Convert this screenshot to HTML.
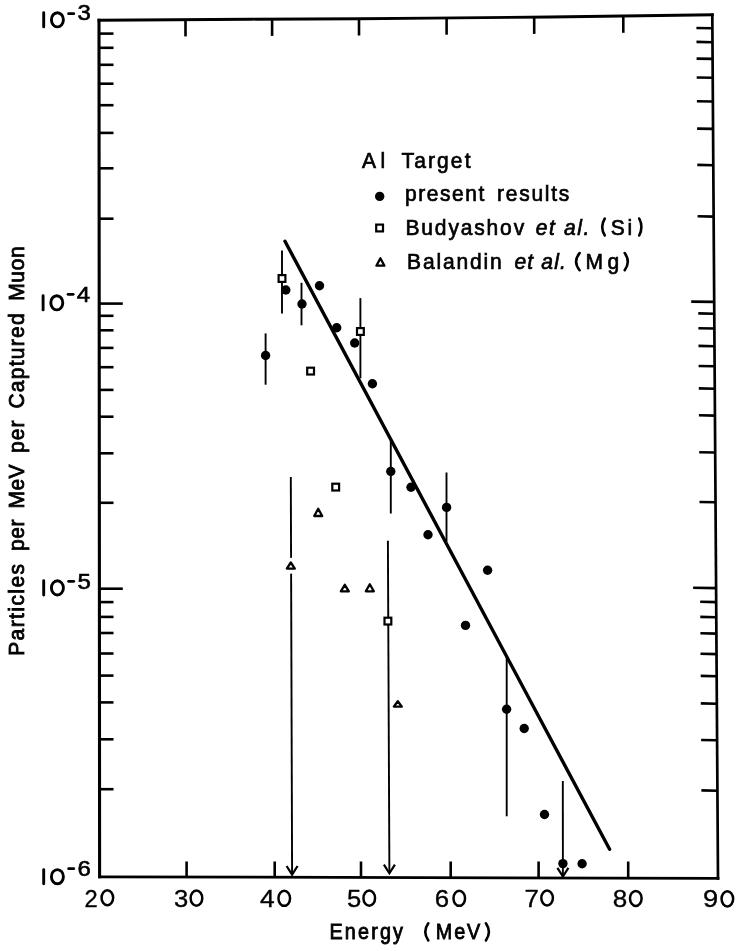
<!DOCTYPE html>
<html><head><meta charset="utf-8"><style>
html,body{margin:0;padding:0;background:#fff;}
svg{display:block;will-change:transform;}
</style></head><body>
<svg width="743" height="951" viewBox="0 0 743 951">
<rect width="743" height="951" fill="#fff"/>
<polyline points="99.0,20.2 250.0,19.2 360.0,18.7 430.0,18.1 550.0,17.0 712.3,14.8" fill="none" stroke="#000" stroke-width="2.9" stroke-linecap="square"/>
<line x1="99.0" y1="20.2" x2="99.6" y2="876.8" stroke="#000" stroke-width="3.1" stroke-linecap="square"/>
<line x1="99.6" y1="876.8" x2="718.0" y2="878.3" stroke="#000" stroke-width="2.8" stroke-linecap="square"/>
<line x1="712.3" y1="14.8" x2="718.0" y2="878.3" stroke="#000" stroke-width="2.7" stroke-linecap="square"/>
<line x1="99.0" y1="33.6" x2="113.5" y2="33.6" stroke="#000" stroke-width="2.6"/>
<line x1="99.0" y1="47.8" x2="113.5" y2="47.8" stroke="#000" stroke-width="2.6"/>
<line x1="99.0" y1="64.8" x2="113.5" y2="64.8" stroke="#000" stroke-width="2.6"/>
<line x1="99.0" y1="83.7" x2="113.5" y2="83.7" stroke="#000" stroke-width="2.6"/>
<line x1="99.1" y1="105.2" x2="113.5" y2="105.2" stroke="#000" stroke-width="2.6"/>
<line x1="99.1" y1="132.9" x2="113.5" y2="132.9" stroke="#000" stroke-width="2.6"/>
<line x1="99.1" y1="168.3" x2="113.5" y2="168.3" stroke="#000" stroke-width="2.6"/>
<line x1="99.1" y1="218.7" x2="113.5" y2="218.7" stroke="#000" stroke-width="2.6"/>
<line x1="99.2" y1="315.8" x2="113.5" y2="315.8" stroke="#000" stroke-width="2.6"/>
<line x1="99.2" y1="330.3" x2="113.5" y2="330.3" stroke="#000" stroke-width="2.6"/>
<line x1="99.2" y1="347.9" x2="113.5" y2="347.9" stroke="#000" stroke-width="2.6"/>
<line x1="99.2" y1="367.2" x2="113.5" y2="367.2" stroke="#000" stroke-width="2.6"/>
<line x1="99.3" y1="389.9" x2="113.5" y2="389.9" stroke="#000" stroke-width="2.6"/>
<line x1="99.3" y1="416.7" x2="113.5" y2="416.7" stroke="#000" stroke-width="2.6"/>
<line x1="99.3" y1="453.3" x2="113.5" y2="453.3" stroke="#000" stroke-width="2.6"/>
<line x1="99.3" y1="502.8" x2="113.5" y2="502.8" stroke="#000" stroke-width="2.6"/>
<line x1="99.4" y1="602.1" x2="113.5" y2="602.1" stroke="#000" stroke-width="2.6"/>
<line x1="99.4" y1="616.9" x2="113.5" y2="616.9" stroke="#000" stroke-width="2.6"/>
<line x1="99.4" y1="633.0" x2="113.5" y2="633.0" stroke="#000" stroke-width="2.6"/>
<line x1="99.4" y1="653.5" x2="113.5" y2="653.5" stroke="#000" stroke-width="2.6"/>
<line x1="99.5" y1="675.6" x2="113.5" y2="675.6" stroke="#000" stroke-width="2.6"/>
<line x1="99.5" y1="702.4" x2="113.5" y2="702.4" stroke="#000" stroke-width="2.6"/>
<line x1="99.5" y1="739.3" x2="113.5" y2="739.3" stroke="#000" stroke-width="2.6"/>
<line x1="99.5" y1="789.2" x2="113.5" y2="789.2" stroke="#000" stroke-width="2.6"/>
<line x1="99.2" y1="303.6" x2="122.8" y2="303.6" stroke="#000" stroke-width="2.6"/>
<line x1="99.4" y1="588.7" x2="122.8" y2="588.7" stroke="#000" stroke-width="2.6"/>
<line x1="712.4" y1="28.3" x2="696.4" y2="28.0" stroke="#000" stroke-width="2.6"/>
<line x1="712.5" y1="42.2" x2="696.5" y2="41.9" stroke="#000" stroke-width="2.6"/>
<line x1="712.6" y1="58.9" x2="696.6" y2="58.6" stroke="#000" stroke-width="2.6"/>
<line x1="712.7" y1="77.8" x2="696.7" y2="77.5" stroke="#000" stroke-width="2.6"/>
<line x1="712.9" y1="101.5" x2="696.9" y2="101.2" stroke="#000" stroke-width="2.6"/>
<line x1="713.1" y1="128.9" x2="697.1" y2="128.6" stroke="#000" stroke-width="2.6"/>
<line x1="713.3" y1="165.2" x2="697.3" y2="164.9" stroke="#000" stroke-width="2.6"/>
<line x1="713.6" y1="216.6" x2="697.6" y2="216.3" stroke="#000" stroke-width="2.6"/>
<line x1="714.3" y1="313.7" x2="698.3" y2="313.4" stroke="#000" stroke-width="2.6"/>
<line x1="714.4" y1="328.5" x2="698.4" y2="328.2" stroke="#000" stroke-width="2.6"/>
<line x1="714.5" y1="346.2" x2="698.5" y2="345.9" stroke="#000" stroke-width="2.6"/>
<line x1="714.6" y1="366.3" x2="698.6" y2="366.0" stroke="#000" stroke-width="2.6"/>
<line x1="714.8" y1="388.7" x2="698.8" y2="388.4" stroke="#000" stroke-width="2.6"/>
<line x1="714.9" y1="415.6" x2="698.9" y2="415.3" stroke="#000" stroke-width="2.6"/>
<line x1="715.2" y1="452.5" x2="699.2" y2="452.2" stroke="#000" stroke-width="2.6"/>
<line x1="715.5" y1="502.3" x2="699.5" y2="502.0" stroke="#000" stroke-width="2.6"/>
<line x1="716.2" y1="602.1" x2="700.2" y2="601.8" stroke="#000" stroke-width="2.6"/>
<line x1="716.3" y1="617.2" x2="700.3" y2="616.9" stroke="#000" stroke-width="2.6"/>
<line x1="716.4" y1="633.6" x2="700.4" y2="633.3" stroke="#000" stroke-width="2.6"/>
<line x1="716.5" y1="654.1" x2="700.5" y2="653.8" stroke="#000" stroke-width="2.6"/>
<line x1="716.7" y1="676.2" x2="700.7" y2="675.9" stroke="#000" stroke-width="2.6"/>
<line x1="716.8" y1="703.7" x2="700.8" y2="703.4" stroke="#000" stroke-width="2.6"/>
<line x1="717.1" y1="740.3" x2="701.1" y2="740.0" stroke="#000" stroke-width="2.6"/>
<line x1="717.4" y1="790.7" x2="701.4" y2="790.4" stroke="#000" stroke-width="2.6"/>
<line x1="714.2" y1="301.9" x2="691.2" y2="301.6" stroke="#000" stroke-width="2.6"/>
<line x1="716.1" y1="588.1" x2="693.1" y2="587.8" stroke="#000" stroke-width="2.6"/>
<line x1="186.6" y1="877.0" x2="186.6" y2="861.5" stroke="#000" stroke-width="2.6"/>
<line x1="274.7" y1="877.2" x2="274.7" y2="861.5" stroke="#000" stroke-width="2.6"/>
<line x1="361.0" y1="877.4" x2="361.0" y2="861.5" stroke="#000" stroke-width="2.6"/>
<line x1="450.7" y1="877.7" x2="450.7" y2="861.5" stroke="#000" stroke-width="2.6"/>
<line x1="538.6" y1="877.9" x2="538.6" y2="861.5" stroke="#000" stroke-width="2.6"/>
<line x1="628.2" y1="878.1" x2="628.2" y2="861.5" stroke="#000" stroke-width="2.6"/>
<line x1="185.5" y1="19.6" x2="185.5" y2="36.4" stroke="#000" stroke-width="2.6"/>
<line x1="272.1" y1="19.1" x2="272.1" y2="35.9" stroke="#000" stroke-width="2.6"/>
<line x1="359.0" y1="18.7" x2="359.0" y2="35.5" stroke="#000" stroke-width="2.6"/>
<line x1="446.6" y1="17.9" x2="446.6" y2="34.7" stroke="#000" stroke-width="2.6"/>
<line x1="534.2" y1="17.1" x2="534.2" y2="33.9" stroke="#000" stroke-width="2.6"/>
<line x1="623.3" y1="16.0" x2="623.3" y2="32.8" stroke="#000" stroke-width="2.6"/>
<text x="0" y="0" transform="translate(362.0,167.6) scale(0.93,1)" font-family="Liberation Sans, sans-serif" font-size="22.6" letter-spacing="4.731" stroke="#000" stroke-width="0.7">Al</text>
<text x="0" y="0" transform="translate(401.6,167.6) scale(0.93,1)" font-family="Liberation Sans, sans-serif" font-size="22.6" letter-spacing="2.258" stroke="#000" stroke-width="0.7">Target</text>
<text x="0" y="0" transform="translate(405.1,200.5) scale(0.93,1)" font-family="Liberation Sans, sans-serif" font-size="22.6" letter-spacing="1.649" stroke="#000" stroke-width="0.7">present</text>
<text x="0" y="0" transform="translate(497.1,200.5) scale(0.93,1)" font-family="Liberation Sans, sans-serif" font-size="22.6" letter-spacing="1.828" stroke="#000" stroke-width="0.7">results</text>
<text x="0" y="0" transform="translate(405.5,234.6) scale(0.93,1)" font-family="Liberation Sans, sans-serif" font-size="22.6" letter-spacing="1.976" stroke="#000" stroke-width="0.7">Budyashov</text>
<text x="0" y="0" transform="translate(535.7,234.6) scale(0.93,1)" font-family="Liberation Sans, sans-serif" font-size="22.6" letter-spacing="1.742" stroke="#000" stroke-width="0.7" font-style="italic">et al.</text>
<text x="0" y="0" transform="translate(610.7,234.6) scale(0.93,1)" font-family="Liberation Sans, sans-serif" font-size="22.6" letter-spacing="3.011" stroke="#000" stroke-width="0.7">Si</text>
<text x="0" y="0" transform="translate(407.1,269.2) scale(0.93,1)" font-family="Liberation Sans, sans-serif" font-size="22.6" letter-spacing="1.951" stroke="#000" stroke-width="0.7">Balandin</text>
<text x="0" y="0" transform="translate(514.4,269.2) scale(0.93,1)" font-family="Liberation Sans, sans-serif" font-size="22.6" letter-spacing="1.29" stroke="#000" stroke-width="0.7" font-style="italic">et al.</text>
<text x="0" y="0" transform="translate(585.6,268.8) scale(0.93,1)" font-family="Liberation Sans, sans-serif" font-size="22.6" letter-spacing="4.839" stroke="#000" stroke-width="0.7">Mg</text>
<text x="0" y="0" transform="translate(329.5,938.8) scale(0.9,1)" font-family="Liberation Sans, sans-serif" font-size="22.0" letter-spacing="2.4" stroke="#000" stroke-width="0.85">Energy</text>
<text x="0" y="0" transform="translate(435.7,938.8) scale(0.9,1)" font-family="Liberation Sans, sans-serif" font-size="22.0" letter-spacing="2.167" stroke="#000" stroke-width="0.85">MeV</text>
<text x="0" y="0" transform="translate(23.9,700) rotate(-90) translate(44.2,0) scale(0.92,1)" font-family="Liberation Sans, sans-serif" font-size="22.8" letter-spacing="1.549" stroke="#000" stroke-width="0.85">Particles</text>
<text x="0" y="0" transform="translate(23.9,700) rotate(-90) translate(148.9,0) scale(0.92,1)" font-family="Liberation Sans, sans-serif" font-size="22.8" letter-spacing="0.707" stroke="#000" stroke-width="0.85">per</text>
<text x="0" y="0" transform="translate(23.9,700) rotate(-90) translate(191.6,0) scale(0.92,1)" font-family="Liberation Sans, sans-serif" font-size="22.8" letter-spacing="0.435" stroke="#000" stroke-width="0.85">MeV</text>
<text x="0" y="0" transform="translate(23.9,700) rotate(-90) translate(247.0,0) scale(0.92,1)" font-family="Liberation Sans, sans-serif" font-size="22.8" letter-spacing="1.141" stroke="#000" stroke-width="0.85">per</text>
<text x="0" y="0" transform="translate(23.9,700) rotate(-90) translate(291.4,0) scale(0.92,1)" font-family="Liberation Sans, sans-serif" font-size="22.8" letter-spacing="1.398" stroke="#000" stroke-width="0.85">Captured</text>
<text x="0" y="0" transform="translate(23.9,700) rotate(-90) translate(399.2,0) scale(0.92,1)" font-family="Liberation Sans, sans-serif" font-size="22.8" letter-spacing="0.761" stroke="#000" stroke-width="0.85">Muon</text>
<text x="0" y="0" transform="translate(84.4,906.5) scale(0.965456837606837,1)" font-family="Liberation Sans, sans-serif" font-size="24.6" letter-spacing="0.0" stroke="#000" stroke-width="0.35">2</text>
<text x="0" y="0" transform="translate(174.1,906.9) scale(1.0409813568376054,1)" font-family="Liberation Sans, sans-serif" font-size="24.6" letter-spacing="0.0" stroke="#000" stroke-width="0.35">3</text>
<text x="0" y="0" transform="translate(260.0,906.9) scale(1.0712982312925143,1)" font-family="Liberation Sans, sans-serif" font-size="24.6" letter-spacing="0.0" stroke="#000" stroke-width="0.35">4</text>
<text x="0" y="0" transform="translate(347.1,906.9) scale(1.040981356837598,1)" font-family="Liberation Sans, sans-serif" font-size="24.6" letter-spacing="0.0" stroke="#000" stroke-width="0.35">5</text>
<text x="0" y="0" transform="translate(434.7,906.9) scale(1.0500078288575359,1)" font-family="Liberation Sans, sans-serif" font-size="24.6" letter-spacing="0.0" stroke="#000" stroke-width="0.35">6</text>
<text x="0" y="0" transform="translate(524.4,906.7) scale(1.05000782885755,1)" font-family="Liberation Sans, sans-serif" font-size="24.6" letter-spacing="0.0" stroke="#000" stroke-width="0.35">7</text>
<text x="0" y="0" transform="translate(612.7,906.9) scale(1.0593873274161738,1)" font-family="Liberation Sans, sans-serif" font-size="24.6" letter-spacing="0.0" stroke="#000" stroke-width="0.35">8</text>
<text x="0" y="0" transform="translate(703.0,907.3) scale(1.1110558678501106,1)" font-family="Liberation Sans, sans-serif" font-size="24.6" letter-spacing="0.0" stroke="#000" stroke-width="0.35">9</text>
<ellipse cx="107.35" cy="897.75" rx="5.8" ry="7.55" fill="none" stroke="#000" stroke-width="2.5"/>
<ellipse cx="196.45" cy="898.15" rx="5.8" ry="7.55" fill="none" stroke="#000" stroke-width="2.5"/>
<ellipse cx="284.25" cy="898.3" rx="5.8" ry="7.55" fill="none" stroke="#000" stroke-width="2.5"/>
<ellipse cx="369.25" cy="898.15" rx="5.8" ry="7.55" fill="none" stroke="#000" stroke-width="2.5"/>
<ellipse cx="459.25" cy="898.3" rx="5.8" ry="7.55" fill="none" stroke="#000" stroke-width="2.5"/>
<ellipse cx="547.1" cy="898.0" rx="5.8" ry="7.55" fill="none" stroke="#000" stroke-width="2.5"/>
<ellipse cx="635.8" cy="898.45" rx="5.8" ry="7.55" fill="none" stroke="#000" stroke-width="2.5"/>
<ellipse cx="727.35" cy="898.85" rx="5.8" ry="7.55" fill="none" stroke="#000" stroke-width="2.5"/>
<path d="M428.3,923.3 Q422.3,931.9 428.3,940.4" fill="none" stroke="#000" stroke-width="2.6" stroke-linecap="round"/>
<path d="M485.9,923.3 Q491.9,931.9 485.9,940.4" fill="none" stroke="#000" stroke-width="2.6" stroke-linecap="round"/>
<path d="M604.8,218.5 Q599.6,227.0 604.8,235.5" fill="none" stroke="#000" stroke-width="2.6" stroke-linecap="round"/>
<path d="M639.2,218.5 Q643.6,227.0 639.2,235.5" fill="none" stroke="#000" stroke-width="2.6" stroke-linecap="round"/>
<path d="M579.6,253.1 Q572.6,261.6 579.6,270.2" fill="none" stroke="#000" stroke-width="2.6" stroke-linecap="round"/>
<path d="M624.7,253.1 Q630.9,261.6 624.7,270.2" fill="none" stroke="#000" stroke-width="2.6" stroke-linecap="round"/>
<line x1="43.7" y1="12.7" x2="43.7" y2="26.9" stroke="#000" stroke-width="2.9" stroke-linecap="round"/>
<ellipse cx="57.4" cy="19.8" rx="6.0" ry="7.1" fill="none" stroke="#000" stroke-width="2.9"/>
<line x1="68.6" y1="13.7" x2="73.8" y2="13.7" stroke="#000" stroke-width="2.7" stroke-linecap="round"/>
<text x="0" y="0" transform="translate(77.4,20.3) scale(1.1,1)" font-family="Liberation Sans, sans-serif" font-size="21.8" stroke="#000" stroke-width="0.6">3</text>
<line x1="43.1" y1="295.7" x2="43.1" y2="309.9" stroke="#000" stroke-width="2.9" stroke-linecap="round"/>
<ellipse cx="56.8" cy="302.8" rx="6.0" ry="7.1" fill="none" stroke="#000" stroke-width="2.9"/>
<line x1="68.0" y1="294.3" x2="73.2" y2="294.3" stroke="#000" stroke-width="2.7" stroke-linecap="round"/>
<text x="0" y="0" transform="translate(76.8,301.7) scale(1.1,1)" font-family="Liberation Sans, sans-serif" font-size="21.8" stroke="#000" stroke-width="0.6">4</text>
<line x1="43.7" y1="580.8" x2="43.7" y2="595.0" stroke="#000" stroke-width="2.9" stroke-linecap="round"/>
<ellipse cx="57.4" cy="587.9" rx="6.0" ry="7.1" fill="none" stroke="#000" stroke-width="2.9"/>
<line x1="68.6" y1="581.3" x2="73.8" y2="581.3" stroke="#000" stroke-width="2.7" stroke-linecap="round"/>
<text x="0" y="0" transform="translate(77.4,588.9) scale(1.1,1)" font-family="Liberation Sans, sans-serif" font-size="21.8" stroke="#000" stroke-width="0.6">5</text>
<line x1="43.7" y1="869.6" x2="43.7" y2="883.8" stroke="#000" stroke-width="2.9" stroke-linecap="round"/>
<ellipse cx="57.4" cy="876.7" rx="6.0" ry="7.1" fill="none" stroke="#000" stroke-width="2.9"/>
<line x1="68.6" y1="868.7" x2="73.8" y2="868.7" stroke="#000" stroke-width="2.7" stroke-linecap="round"/>
<text x="0" y="0" transform="translate(77.4,876.2) scale(1.1,1)" font-family="Liberation Sans, sans-serif" font-size="21.8" stroke="#000" stroke-width="0.6">6</text>
<line x1="285" y1="241.3" x2="609.6" y2="849.3" stroke="#000" stroke-width="3.4" stroke-linecap="round"/>
<line x1="282" y1="250.5" x2="282" y2="313.5" stroke="#000" stroke-width="1.9"/>
<line x1="301.5" y1="282.8" x2="301.5" y2="325.3" stroke="#000" stroke-width="1.9"/>
<line x1="265.6" y1="333.4" x2="265.6" y2="384.7" stroke="#000" stroke-width="1.9"/>
<line x1="360.4" y1="298.1" x2="360.4" y2="378.3" stroke="#000" stroke-width="1.9"/>
<line x1="390.8" y1="440.6" x2="390.8" y2="513.5" stroke="#000" stroke-width="1.9"/>
<line x1="446.5" y1="472.5" x2="446.5" y2="541.7" stroke="#000" stroke-width="1.9"/>
<line x1="506.7" y1="655.7" x2="506.7" y2="816.3" stroke="#000" stroke-width="1.9"/>
<line x1="290.8" y1="476.9" x2="292.1" y2="874.6" stroke="#000" stroke-width="1.9"/>
<polyline points="286.6,866.0 292.1,874.6 297.6,866.0" fill="none" stroke="#000" stroke-width="2.2" stroke-linejoin="miter"/>
<line x1="290.6" y1="557.8" x2="291.4" y2="573.6" stroke="#fff" stroke-width="3"/>
<line x1="387.9" y1="540.8" x2="389.4" y2="873.3" stroke="#000" stroke-width="1.9"/>
<polyline points="383.9,864.7 389.4,873.3 394.9,864.7" fill="none" stroke="#000" stroke-width="2.2" stroke-linejoin="miter"/>
<line x1="562.8" y1="781.0" x2="562.9" y2="876.5" stroke="#000" stroke-width="1.9"/>
<polyline points="557.4,867.9 562.9,876.5 568.4,867.9" fill="none" stroke="#000" stroke-width="2.2" stroke-linejoin="miter"/>
<circle cx="285.8" cy="290" r="4.7" fill="#000"/>
<circle cx="302" cy="304" r="4.7" fill="#000"/>
<circle cx="319.5" cy="285.7" r="4.7" fill="#000"/>
<circle cx="336.7" cy="327.7" r="4.7" fill="#000"/>
<circle cx="354.7" cy="343" r="4.7" fill="#000"/>
<circle cx="265.6" cy="355.5" r="4.7" fill="#000"/>
<circle cx="372.4" cy="383.7" r="4.7" fill="#000"/>
<circle cx="390.8" cy="471.5" r="4.7" fill="#000"/>
<circle cx="411" cy="487.3" r="4.7" fill="#000"/>
<circle cx="428" cy="534.7" r="4.7" fill="#000"/>
<circle cx="446.6" cy="507.4" r="4.7" fill="#000"/>
<circle cx="487.6" cy="570.2" r="4.7" fill="#000"/>
<circle cx="465.5" cy="625.4" r="4.7" fill="#000"/>
<circle cx="506.6" cy="709.2" r="4.7" fill="#000"/>
<circle cx="524.2" cy="728.5" r="4.7" fill="#000"/>
<circle cx="544.5" cy="814.5" r="4.7" fill="#000"/>
<circle cx="562.9" cy="863.6" r="4.7" fill="#000"/>
<circle cx="582.1" cy="863.7" r="4.7" fill="#000"/>
<circle cx="379.7" cy="196.4" r="4.7" fill="#000"/>
<rect x="278.6" y="275.1" width="6.8" height="6.8" fill="#fff" stroke="#000" stroke-width="2.2"/>
<rect x="357.0" y="328.1" width="6.8" height="6.8" fill="#fff" stroke="#000" stroke-width="2.2"/>
<rect x="307.2" y="367.7" width="6.8" height="6.8" fill="#fff" stroke="#000" stroke-width="2.2"/>
<rect x="332.3" y="483.7" width="6.8" height="6.8" fill="#fff" stroke="#000" stroke-width="2.2"/>
<rect x="384.5" y="617.7" width="6.8" height="6.8" fill="#fff" stroke="#000" stroke-width="2.2"/>
<rect x="376.2" y="224.6" width="6.8" height="6.8" fill="#fff" stroke="#000" stroke-width="2.2"/>
<polygon points="290.8,562.5 294.8,568.6 286.8,568.6" fill="#fff" stroke="#000" stroke-width="2.3" stroke-linejoin="round"/>
<polygon points="318.2,508.8 322.2,516.0 314.2,516.0" fill="#fff" stroke="#000" stroke-width="2.3" stroke-linejoin="round"/>
<polygon points="344.8,584.8 348.8,591.3 340.8,591.3" fill="#fff" stroke="#000" stroke-width="2.3" stroke-linejoin="round"/>
<polygon points="369.8,584.2 373.8,591.3 365.8,591.3" fill="#fff" stroke="#000" stroke-width="2.3" stroke-linejoin="round"/>
<polygon points="397.8,701.2 401.8,706.6 393.8,706.6" fill="#fff" stroke="#000" stroke-width="2.3" stroke-linejoin="round"/>
<polygon points="380.4,258.2 384.4,265.7 376.4,265.7" fill="#fff" stroke="#000" stroke-width="2.3" stroke-linejoin="round"/>
</svg>
</body></html>
